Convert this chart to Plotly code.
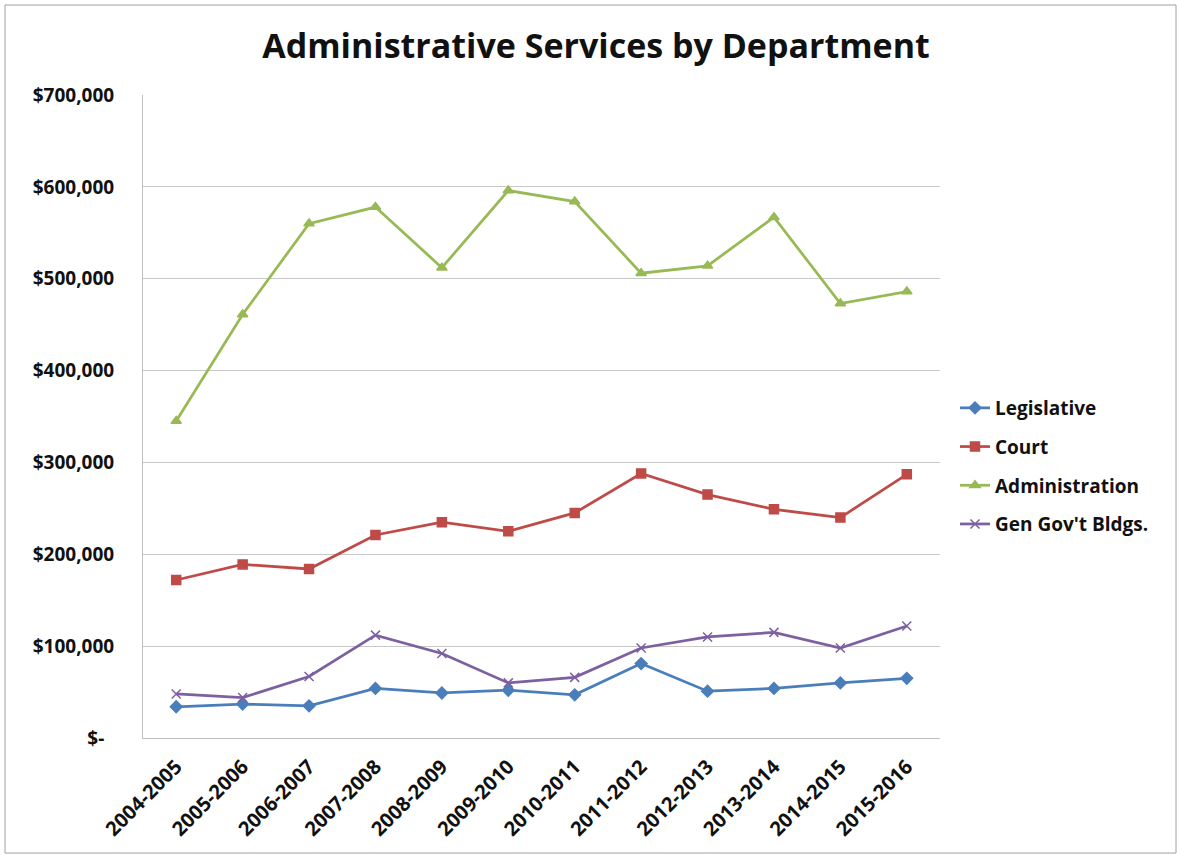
import plotly.graph_objects as go

years = ["2004-2005", "2005-2006", "2006-2007", "2007-2008", "2008-2009", "2009-2010",
         "2010-2011", "2011-2012", "2012-2013", "2013-2014", "2014-2015", "2015-2016"]
legislative = [34000, 37000, 35000, 54000, 49000, 52000, 47000, 81000, 51000, 54000, 60000, 65000]
court = [172000, 189000, 184000, 221000, 235000, 225000, 245000, 288000, 265000, 249000, 240000, 287000]
administration = [345000, 461000, 560000, 578000, 512000, 596000, 584000, 506000, 514000, 567000, 473000, 486000]
gen_govt = [48000, 44000, 67000, 112000, 92000, 60000, 66000, 98000, 110000, 115000, 98000, 122000]

y_tickvals = [0, 100000, 200000, 300000, 400000, 500000, 600000, 700000]
y_ticktext = ["$-\u00a0\u00a0", "$100,000", "$200,000", "$300,000", "$400,000", "$500,000", "$600,000", "$700,000"]

series = [
    ("Legislative", legislative, "#4A7EBB", "diamond", 9),
    ("Court", court, "#BE4B48", "square", 9),
    ("Administration", administration, "#98B954", "triangle-up", 9),
    ("Gen Gov't Bldgs.", gen_govt, "#7D60A0", "x-thin", 9),
]

fig = go.Figure()
for i, (name, vals, color, sym, size) in enumerate(series):
    fig.add_trace(go.Scatter(
        x=years, y=vals, name="<b>" + name + "</b>", mode="lines+markers",
        legendgroup=f"g{i}",
        line=dict(color=color, width=2.75),
        marker=dict(symbol=sym, size=size, color=color,
                    line=dict(color=color, width=1.5)),
    ))

W, H = 1177, 855
ml, mr, mt, mb = 143, 237, 95, 117
pw, ph = W - ml - mr, H - mt - mb

def px_x(v):
    return (v - ml) / pw

def px_y(v):
    return (H - mb - v) / ph

font_family = "'Open Sans', Lato, Arial, sans-serif"

fig.update_layout(
    width=W, height=H,
    margin=dict(l=ml, r=mr, t=mt, b=mb),
    paper_bgcolor="white", plot_bgcolor="white",
    title=dict(text="<b>Administrative Services by Department</b>",
               x=596 / W, xanchor="center", y=1 - 46 / H, yanchor="middle",
               font=dict(family=font_family, size=34, color="#111111")),
    font=dict(family=font_family, color="#222222"),
    showlegend=True,
    legend=dict(x=px_x(955), xanchor="left", y=px_y(389), yanchor="top",
                font=dict(family=font_family, size=19, color="#111111"),
                tracegroupgap=11, itemwidth=30, bgcolor="rgba(0,0,0,0)"),
    xaxis=dict(type="category", showgrid=False, showline=True, linecolor="#BFBFBF",
               linewidth=1, ticks="", tickangle=-45, ticklabelstandoff=8,
               tickvals=years, ticktext=["<b>" + y + "</b>" for y in years],
               tickfont=dict(family=font_family, size=20, color="#111111"),
               range=[-0.5, 11.5]),
    yaxis=dict(range=[0, 700000], tickvals=y_tickvals,
               ticktext=["<b>" + t + "</b>" for t in y_ticktext],
               showgrid=True, gridcolor="#C8C8C8", gridwidth=1,
               showline=True, linecolor="#BFBFBF", linewidth=1,
               zeroline=False, ticks="", ticklabelstandoff=24,
               tickfont=dict(family=font_family, size=19, color="#111111")),
    shapes=[dict(type="rect", xref="paper", yref="paper",
                 x0=px_x(5), x1=px_x(1176), y0=px_y(853), y1=px_y(5),
                 line=dict(color="#A0A0A0", width=1), layer="below")],
)

fig.write_html("out.html")
